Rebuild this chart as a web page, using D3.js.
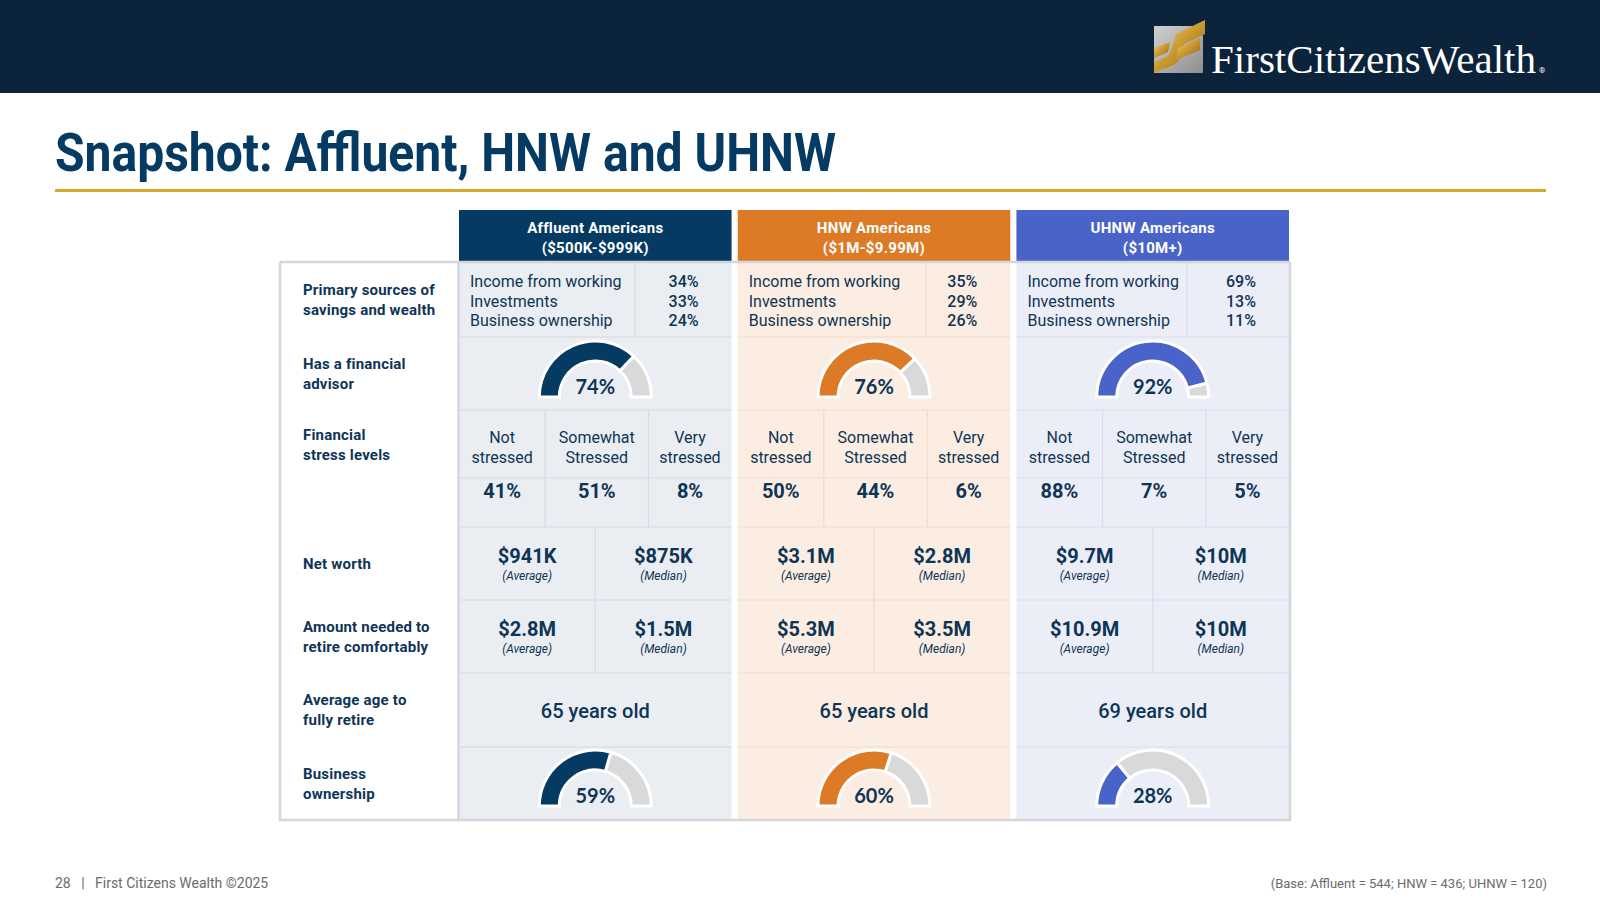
<!DOCTYPE html>
<html>
<head>
<meta charset="utf-8">
<script src="https://cdn.jsdelivr.net/npm/d3@7"></script>
<style>
  body { margin: 0; background: #fff; }
  svg { display: block; font-family: Roboto, "Open Sans", sans-serif; }
</style>
</head>
<body>
<svg id="chart" width="1600" height="900"></svg>
<script>
// data
var groups = ["Affluent Americans", "HNW Americans", "UHNW Americans"]
var ranges = ["($500K-$999K)", "($1M-$9.99M)", "($10M+)"]
var rowLabels = [
    ["Primary sources of", "savings and wealth"],
    ["Has a financial", "advisor"],
    ["Financial", "stress levels"],
    ["Net worth"],
    ["Amount needed to", "retire comfortably"],
    ["Average age to", "fully retire"],
    ["Business", "ownership"]
]
var sourceLabels = ["Income from working", "Investments", "Business ownership"]
var sourceValues = [[34, 33, 24], [35, 29, 26], [69, 13, 11]]
var advisor = [74, 76, 92]
var stressLabels = [["Not", "stressed"], ["Somewhat", "Stressed"], ["Very", "stressed"]]
var stressValues = [[41, 51, 8], [50, 44, 6], [88, 7, 5]]
var netWorth = [["$941K", "$875K"], ["$3.1M", "$2.8M"], ["$9.7M", "$10M"]]
var retireAmount = [["$2.8M", "$1.5M"], ["$5.3M", "$3.5M"], ["$10.9M", "$10M"]]
var statLabels = ["(Average)", "(Median)"]
var retireAge = [65, 65, 69]
var business = [59, 60, 28]

var headColor = ["#053a62", "#dc7a26", "#4a63c9"]
var bgColor = ["#eaedf1", "#fbede1", "#eceef7"]
var lineColor = ["#d6dce3", "#f1dcc9", "#d9dcee"]
var navy = "#0e3556"

var svg = d3.select("#chart")

// top band + logo
svg.append("rect").attr("width", 1600).attr("height", 93).attr("fill", "#0b233b")

var defs = svg.append("defs")
var silver = defs.append("linearGradient").attr("id", "silver")
    .attr("x1", 0).attr("y1", 0).attr("x2", 1).attr("y2", 1)
silver.append("stop").attr("offset", 0).attr("stop-color", "#d0d0d0")
silver.append("stop").attr("offset", 1).attr("stop-color", "#8e8e8e")
var gold = defs.append("linearGradient").attr("id", "gold")
    .attr("x1", 0).attr("y1", 0).attr("x2", 1).attr("y2", 1)
gold.append("stop").attr("offset", 0).attr("stop-color", "#f3d27a")
gold.append("stop").attr("offset", 0.5).attr("stop-color", "#c9982f")
gold.append("stop").attr("offset", 1).attr("stop-color", "#8a6414")

var logo = svg.append("g").attr("transform", "translate(1154,18)")
logo.append("rect").attr("y", 8).attr("width", 49).attr("height", 47).attr("fill", "url(#silver)")
logo.append("path").attr("fill", "url(#gold)")
    .attr("d", "M22,16 L51,2 L51,16 L30,26 C28,34 27,40 22,46 L0,55 L0,44 L14,38 C18,32 19,24 22,16 Z")
logo.append("path").attr("fill", "url(#gold)")
    .attr("d", "M24,30 L46,20 L46,32 L22,42 Z")
logo.append("path").attr("fill", "url(#gold)")
    .attr("d", "M0,30 L16,24 L14,34 L0,40 Z")

svg.append("text")
    .attr("x", 1211).attr("y", 73)
    .attr("fill", "#fff")
    .style("font-family", "'Liberation Serif', 'DejaVu Serif', serif")
    .style("font-size", "41px")
    .attr("textLength", 325).attr("lengthAdjust", "spacingAndGlyphs")
    .text("FirstCitizensWealth")
svg.append("text")
    .attr("x", 1539).attr("y", 73)
    .attr("fill", "#fff").style("font-size", "8px")
    .text("®")

// title
svg.append("text")
    .attr("x", 55).attr("y", 171)
    .attr("fill", "#053a62")
    .style("font-family", "Roboto, sans-serif")
    .style("font-weight", "bold")
    .style("font-size", "53px")
    .attr("textLength", 781).attr("lengthAdjust", "spacingAndGlyphs")
    .text("Snapshot: Affluent, HNW and UHNW")

svg.append("rect").attr("x", 55).attr("y", 189).attr("width", 1491).attr("height", 3)
    .attr("fill", "#d9a92e")

// table scales
var x = d3.scaleBand()
    .domain(groups)
    .range([459, 1289])
    .paddingInner(0.022)
var bw = x.bandwidth()

var rowEdges = [263, 337, 410, 527, 600, 673, 747, 820]
var y = function (i) { return rowEdges[i] }

var cols = svg.selectAll("g.group")
    .data(groups)
    .enter().append("g")
    .attr("class", "group")
    .attr("transform", d => `translate(${x(d)},0)`)

cols.append("rect")
    .attr("y", y(0)).attr("width", bw).attr("height", y(7) - y(0))
    .attr("fill", (d, i) => bgColor[i])

cols.append("rect")
    .attr("y", 210).attr("width", bw).attr("height", 52)
    .attr("fill", (d, i) => headColor[i])

cols.append("text")
    .attr("x", bw / 2).attr("y", 233)
    .attr("text-anchor", "middle").attr("fill", "#fff")
    .style("font-weight", "bold").style("font-size", "15px")
    .style("letter-spacing", "0.3px")
    .text(d => d)
cols.append("text")
    .attr("x", bw / 2).attr("y", 253)
    .attr("text-anchor", "middle").attr("fill", "#fff")
    .style("font-weight", "bold").style("font-size", "15px")
    .style("letter-spacing", "0.3px")
    .text((d, i) => ranges[i])

// inner grid lines
var srcSplit = [0.645, 0.69, 0.625]
cols.each(function (g, gi) {
    var c = d3.select(this)
    var stroke = lineColor[gi]
    var seg = function (x1, y1, x2, y2) {
        c.append("line").attr("x1", x1).attr("y1", y1).attr("x2", x2).attr("y2", y2)
            .attr("stroke", stroke).attr("stroke-width", 1.2)
    }
    d3.range(1, 7).forEach(r => seg(0, y(r), bw, y(r)))
    seg(0, 478, bw, 478)
    seg(bw * srcSplit[gi], y(0), bw * srcSplit[gi], y(1))
    seg(bw * 0.316, y(2), bw * 0.316, y(3))
    seg(bw * 0.695, y(2), bw * 0.695, y(3))
    seg(bw / 2, y(3), bw / 2, y(5))
})

// outer border
var border = svg.append("g").attr("stroke", "#d3d6da").attr("stroke-width", 2.5).attr("fill", "none")
border.append("path").attr("d", "M280,262 L1290,262 M280,262 L280,820 L1290,820 L1290,262 M458.5,262 L458.5,820")

// row labels
var labels = svg.selectAll("text.rowlabel")
    .data(rowLabels)
    .enter().append("text")
    .attr("class", "rowlabel")
    .attr("x", 303)
    .attr("fill", navy)
    .style("font-weight", "bold").style("font-size", "15px")
    .style("letter-spacing", "0.2px")
    .attr("y", (d, i) => {
        if (i === 2) return y(2) + 30
        var mid = (y(i) + y(i + 1)) / 2
        return mid + 5 - (d.length - 1) * 10
    })
labels.selectAll("tspan")
    .data(d => d)
    .enter().append("tspan")
    .attr("x", 303)
    .attr("dy", (d, i) => i ? 20 : 0)
    .text(d => d)

// primary sources
cols.selectAll("text.src")
    .data(sourceLabels)
    .enter().append("text")
    .attr("class", "src")
    .attr("x", 11).attr("y", (d, i) => 287 + i * 19.5)
    .attr("fill", navy).style("font-size", "16px")
    .text(d => d)
cols.selectAll("text.srcv")
    .data((d, i) => sourceValues[i])
    .enter().append("text")
    .attr("class", "srcv")
    .attr("x", bw - 33).attr("y", (d, i) => 287 + i * 19.5)
    .attr("text-anchor", "end")
    .attr("fill", navy).style("font-size", "16px").style("font-weight", 500)
    .text(d => d + "%")

// gauges
var arc = d3.arc().innerRadius(36).outerRadius(56)
var ang = d3.scaleLinear().domain([0, 100]).range([-Math.PI / 2, Math.PI / 2])

function gauge(sel, values, cy) {
    var g = sel.append("g").attr("transform", `translate(${bw / 2},${cy})`)
    g.append("path")
        .attr("d", (d, i) => arc({ startAngle: ang(values[i]), endAngle: ang(100) }))
        .attr("fill", "#d9d9d9").attr("stroke", "#fff").attr("stroke-width", 3)
    g.append("path")
        .attr("d", (d, i) => arc({ startAngle: ang(0), endAngle: ang(values[i]) }))
        .attr("fill", (d, i) => headColor[i]).attr("stroke", "#fff").attr("stroke-width", 3)
    g.append("text")
        .attr("y", -3).attr("text-anchor", "middle")
        .attr("fill", navy)
        .style("font-family", "Lato, sans-serif").style("font-weight", "bold").style("font-size", "20px")
        .text((d, i) => values[i] + "%")
}
gauge(cols, advisor, y(1) + 60)
gauge(cols, business, y(6) + 59)

// stress levels
var stressX = [0.158, 0.5055, 0.8475]
cols.each(function (g, gi) {
    var c = d3.select(this)
    stressLabels.forEach(function (lab, k) {
        var t = c.append("text")
            .attr("text-anchor", "middle")
            .attr("fill", navy).style("font-size", "16px")
        t.selectAll("tspan").data(lab).enter().append("tspan")
            .attr("x", bw * stressX[k])
            .attr("y", (d, i) => 443 + i * 20)
            .text(d => d)
        c.append("text")
            .attr("x", bw * stressX[k]).attr("y", 498)
            .attr("text-anchor", "middle")
            .attr("fill", navy).style("font-size", "20px").style("font-weight", "bold")
            .text(stressValues[gi][k] + "%")
    })
})

// average / median pairs
function pairs(values, base) {
    cols.each(function (g, gi) {
        var c = d3.select(this)
        values[gi].forEach(function (v, k) {
            var cx = bw * (k ? 0.75 : 0.25)
            c.append("text")
                .attr("x", cx).attr("y", base)
                .attr("text-anchor", "middle")
                .attr("fill", navy).style("font-size", "20px").style("font-weight", "bold")
                .text(v)
            c.append("text")
                .attr("x", cx).attr("y", base + 17)
                .attr("text-anchor", "middle")
                .attr("fill", navy).style("font-size", "12px").style("font-style", "italic")
                .text(statLabels[k])
        })
    })
}
pairs(netWorth, 563)
pairs(retireAmount, 636)

// retirement age
cols.append("text")
    .attr("x", bw / 2).attr("y", 718)
    .attr("text-anchor", "middle")
    .attr("fill", navy).style("font-size", "20px").style("font-weight", 500)
    .text((d, i) => retireAge[i] + " years old")

// footer
svg.append("text")
    .attr("x", 55).attr("y", 888)
    .attr("fill", "#6b6b6b").style("font-size", "14px")
    .attr("xml:space", "preserve")
    .text("28   |   First Citizens Wealth ©2025")
svg.append("text")
    .attr("x", 1547).attr("y", 888)
    .attr("text-anchor", "end")
    .attr("fill", "#6b6b6b").style("font-size", "13px")
    .text("(Base: Affluent = 544; HNW = 436; UHNW = 120)")
</script>
</body>
</html>
